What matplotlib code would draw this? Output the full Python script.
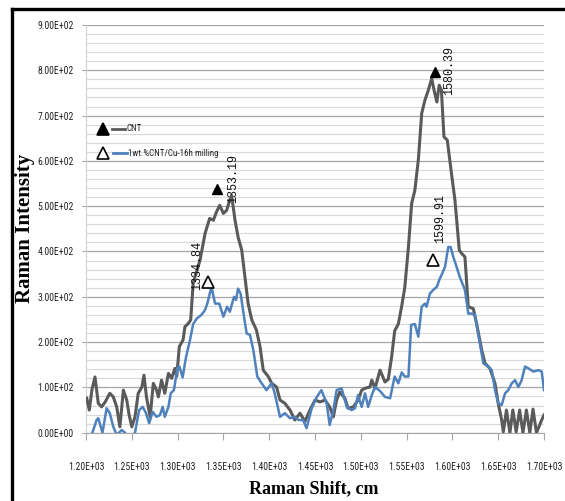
import matplotlib

matplotlib.use("Agg")
import matplotlib.pyplot as plt
from matplotlib import font_manager
from matplotlib.lines import Line2D
import numpy as np

cnt_shift = [1200.8, 1203.6, 1206.5, 1209.8, 1213.4, 1217, 1221, 1226, 1229.8, 1233.5, 1237, 1240.8,
             1244.5, 1247, 1250, 1253.5, 1257, 1261, 1263.3, 1266, 1270, 1273.5, 1277, 1279, 1282.5,
             1286, 1290, 1293.5, 1297, 1299, 1301.9, 1306, 1308, 1311.7, 1314.3, 1317, 1319, 1324.5,
             1330, 1335, 1339, 1342.6, 1346, 1350, 1353.6, 1356.4, 1359, 1362.7, 1366, 1370, 1373.5,
             1377, 1381, 1386, 1390, 1393.5, 1399, 1402.7, 1408, 1411.8, 1417, 1422.7, 1428, 1433.6,
             1439, 1444.5, 1450, 1455.5, 1461, 1466, 1470, 1473.6, 1477, 1482.7, 1486, 1491.8, 1497,
             1501, 1504.6, 1510, 1512, 1515.5, 1521, 1526.4, 1530, 1533.7, 1537, 1541, 1544.7, 1548,
             1552, 1555.5, 1559, 1562.8, 1566.5, 1570, 1573.7, 1577.4, 1580, 1583, 1585.6, 1588,
             1590.8, 1594.4, 1599, 1602.8, 1607.5, 1610, 1613.7, 1617.3, 1622.8, 1626.4, 1632, 1635.6,
             1641, 1646.5, 1650, 1653.8, 1655.6, 1659, 1662.8, 1666, 1669.6, 1673.4, 1677, 1680.8,
             1684.5, 1688, 1691.8, 1697.5, 1700]
cnt_intensity = [76, 50, 95, 123, 65, 57, 68, 87, 79, 57, 13, 94,
                 72, 40, 13, 35, 87, 101, 127, 79, 35, 109, 94, 79, 116,
                 87, 131, 120, 142, 124, 190, 205, 234, 241, 249, 330, 344, 381,
                 440, 473, 469, 488, 502, 484, 491, 510, 524, 469, 432, 403, 344,
                 285, 249, 227, 190, 138, 124, 109, 101, 72, 65, 50, 28, 43,
                 25, 50, 72, 68, 72, 57, 35, 72, 90, 76, 54, 57, 72,
                 94, 98, 101, 116, 98, 138, 112, 118, 168, 225, 240, 280, 320,
                 410, 506, 535, 602, 705, 734, 756, 782, 756, 730, 767, 756,
                 653, 646, 572, 513, 403, 396, 388, 278, 274, 241, 182, 153,
                 142, 109, 65, 28, 2, 50, 0, 50, 2, 50, 0, 50,
                 0, 52, 0, 28, 39]

cu_shift = [1207, 1211.6, 1213.4, 1218, 1222.5, 1226, 1229.8, 1233.5, 1239, 1242.6, 1246, 1250,
            1253.5, 1258, 1262, 1265.5, 1269, 1272.8, 1277, 1280.8, 1283.7, 1286, 1290, 1292.5,
            1296, 1299.7, 1302, 1305.5, 1309, 1313.5, 1317, 1320.9, 1326, 1330, 1332.4, 1337,
            1340.9, 1345.5, 1350, 1354, 1357, 1361.6, 1363.8, 1366, 1368.8, 1372.5, 1375.4, 1379,
            1382.7, 1387, 1391.8, 1397, 1402.7, 1406, 1411.8, 1417, 1422.7, 1428, 1431.8, 1437,
            1440.8, 1446.4, 1452, 1457, 1462.7, 1466, 1470, 1473.6, 1479, 1484.7, 1490, 1493.7,
            1497, 1501, 1504.6, 1508, 1512, 1515.5, 1521, 1526.4, 1532, 1535.5, 1537, 1541,
            1544.7, 1548, 1552, 1555, 1559, 1562.8, 1566.5, 1570, 1571.8, 1575.4, 1579, 1583,
            1585.6, 1589, 1591.9, 1595.5, 1598, 1601, 1604.6, 1608, 1613.7, 1617.3, 1621, 1624.6,
            1630, 1633.8, 1639, 1643, 1646.5, 1650, 1653.8, 1657.5, 1661, 1664.8, 1668.4, 1672,
            1675.6, 1679.3, 1683, 1688.4, 1694, 1697.5, 1700]
cu_intensity = [0, 28, 32, 0, 54, 43, 13, -5, 6, 0, -12, -8,
                0, 50, 57, 43, 21, 46, 35, 39, 57, 35, 57, 87,
                94, 142, 146, 122, 165, 204, 240, 252, 260, 271, 285, 322,
                285, 285, 256, 278, 267, 300, 293, 318, 307, 256, 219, 216,
                182, 124, 109, 94, 109, 87, 35, 43, 32, 35, 28, 28,
                10, 54, 79, 94, 65, 17, 50, 94, 98, 57, 50, 54,
                83, 57, 87, 57, 83, 101, 92, 79, 76, 110, 124, 109,
                133, 124, 124, 238, 240, 212, 278, 285, 278, 307, 315, 322,
                337, 352, 366, 410, 410, 388, 366, 344, 315, 263, 263, 260,
                197, 153, 146, 138, 94, 65, 61, 87, 94, 109, 116, 101,
                116, 146, 142, 135, 138, 135, 94]

# peak annotations: label text, label anchor (x, bottom y), triangle position
cnt_peak_labels = ["1353.19", "1580.39"]
cnt_label_xy = [(1360.5, 506), (1597, 745)]
cnt_marker_xy = [(1342.6, 537), (1581, 796)]
cu_peak_labels = ["1334.84", "1599.91"]
cu_label_xy = [(1321, 315), (1586.5, 418)]
cu_marker_xy = [(1333.5, 333), (1579, 382)]

series_names = ["CNT", "1wt.%CNT/Cu-16h milling"]
x_ticks = np.arange(1200, 1701, 50)
y_ticks = np.arange(0, 901, 100)

GRAY = "#5a5a5a"
BLUE = "#4f81bd"


def pick_font(*names):
    installed = {f.name for f in font_manager.fontManager.ttflist}
    for name in names:
        if name in installed:
            return name
    return "DejaVu Sans"


narrow = pick_font("Liberation Sans Narrow", "Roboto Condensed", "Liberation Sans")
serif = pick_font("Liberation Serif", "DejaVu Serif")
mono = pick_font("Liberation Mono", "DejaVu Sans Mono")

W, H = 565, 501
fig = plt.figure(figsize=(W / 100, H / 100), dpi=100)
ax = fig.add_axes([86 / W, (H - 432.7) / H, 458 / W, 407.7 / H])

ax.plot(cnt_shift, cnt_intensity, color=GRAY, linewidth=2.2, solid_joinstyle="round", zorder=3)
ax.plot(cu_shift, cu_intensity, color=BLUE, linewidth=1.8, solid_joinstyle="round", zorder=4)

ax.set_xlim(1200, 1700)
ax.set_ylim(0, 900)
ax.set_xticks(x_ticks)
ax.set_xticklabels([f"{v:.2E}" for v in x_ticks], fontfamily=narrow, fontsize=7, color="#222222")
ax.set_yticks(y_ticks)
ax.set_yticklabels([f"{v:.2E}" for v in y_ticks], fontfamily=narrow, fontsize=7, color="#222222")
ax.set_yticks(np.arange(0, 901, 20), minor=True)
ax.grid(which="major", axis="y", color="#a6a6a6", linewidth=0.9, zorder=0)
ax.grid(which="minor", axis="y", color="#d9d9d9", linewidth=0.8, zorder=0)
ax.set_axisbelow(True)
ax.tick_params(axis="x", length=5, color="#a6a6a6", pad=16)
ax.tick_params(axis="y", which="major", length=3, color="#a6a6a6", pad=6)
ax.tick_params(axis="y", which="minor", length=0)
for side in ("top", "right"):
    ax.spines[side].set_visible(False)
ax.spines["left"].set_color("#d0d0d0")
ax.spines["bottom"].set_color("#a6a6a6")

# peak markers and rotated labels
for text, (lx, ly), (mx, my) in zip(cnt_peak_labels, cnt_label_xy, cnt_marker_xy):
    ax.plot(mx, my, marker="^", markersize=7, color="black", zorder=5, clip_on=False)
    ax.text(lx, ly, text, rotation=90, ha="center", va="bottom", fontfamily=mono,
            fontsize=8.5, color="#111111", zorder=6)
for text, (lx, ly), (mx, my) in zip(cu_peak_labels, cu_label_xy, cu_marker_xy):
    ax.plot(mx, my, marker="^", markersize=8, markerfacecolor="white",
            markeredgecolor="black", markeredgewidth=1.2, zorder=5)
    ax.text(lx, ly, text, rotation=90, ha="center", va="bottom", fontfamily=mono,
            fontsize=8.5, color="#111111", zorder=6)

# hand-made legend (triangle, short line, label)
legend_rows = [(0.745, GRAY, "black", 0.057, 0.085), (0.686, BLUE, "white", 0.059, 0.089)]
for (row_y, color, face, x0, x1), name in zip(legend_rows, series_names):
    ax.plot([0.037], [row_y], marker="^", markersize=8, markerfacecolor=face,
            markeredgecolor="black", markeredgewidth=1.2, transform=ax.transAxes, zorder=6)
    ax.plot([x0, x1], [row_y, row_y], color=color, linewidth=2, transform=ax.transAxes, zorder=6)
    ax.text(x1 + 0.003, row_y, name, transform=ax.transAxes, va="center", ha="left",
            fontfamily=narrow, fontsize=6.5, color="#222222")

fig.text(25 / W, 1 - 228 / H, "Raman Intensity", rotation=90, ha="center", va="center",
         fontfamily=serif, fontweight="bold", fontsize=15)
fig.text(314 / W, 1 - 489 / H, "Raman Shift, cm", ha="center", va="center",
         fontfamily=serif, fontweight="bold", fontsize=13)

# thick frame along the top and left edges
fig.add_artist(Line2D([11.5 / W, 11.5 / W], [0, 1 - 8.5 / H], color="black", linewidth=2.4))
fig.add_artist(Line2D([11.5 / W, 1], [1 - 8.5 / H, 1 - 8.5 / H], color="black", linewidth=2.4))

fig.savefig("out.png", dpi=100)
plt.close(fig)
